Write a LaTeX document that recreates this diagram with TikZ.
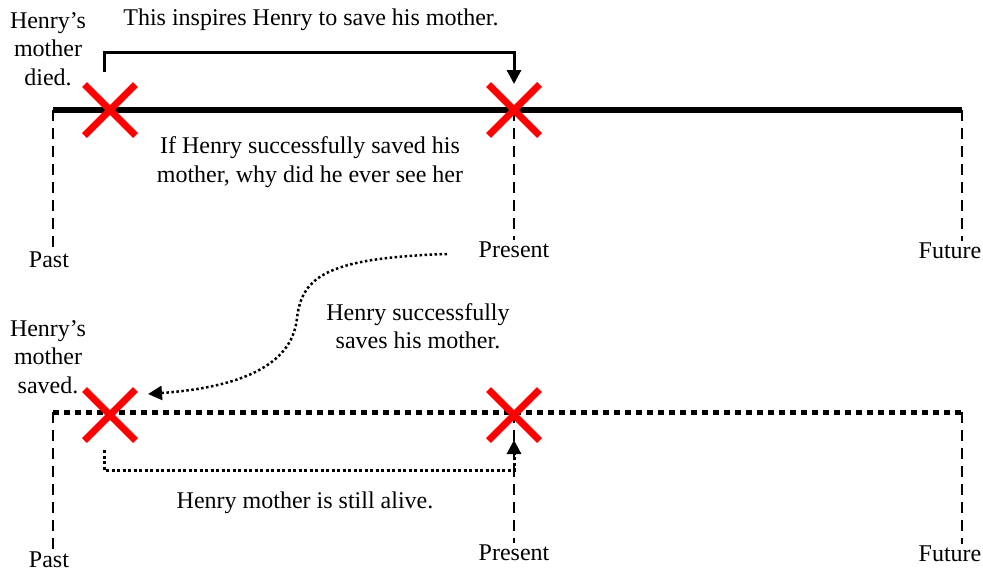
\documentclass[tikz,border=0pt]{standalone}
\usepackage{fontspec}
\setmainfont{Liberation Serif}
\usetikzlibrary{arrows.meta,shapes.misc}

\begin{document}
\begin{tikzpicture}[x=1pt, y=-1pt, font=\fontsize{24}{28.5}\selectfont,
    redx/.style={draw=red, cross out, line width=7pt, minimum size=44pt, inner sep=0pt},
    tick/.style={black, line width=2.5pt, dash pattern=on 11pt off 7pt},
    lbl/.style={align=center, inner sep=2pt},
    tip/.style={-{Triangle[length=14pt, width=14pt]}}]
    \useasboundingbox (0,0) rectangle (983,571);

    \coordinate (P1) at (53,110);
    \coordinate (N1) at (514,110);
    \coordinate (F1) at (962,110);
    \coordinate (P2) at (53,412);
    \coordinate (N2) at (514,412);
    \coordinate (F2) at (962,412);

    \node[lbl] (past1) at (49,260) {Past};
    \node[lbl] (present1) at (514,250) {Present};
    \node[lbl] (future1) at (950,251) {Future};
    \node[lbl] (past2) at (49,560) {Past};
    \node[lbl] (present2) at (514,553) {Present};
    \node[lbl] (future2) at (950,554) {Future};

    \node[lbl] (died) at (48,49) {Henry’s\\mother\\died.};
    \node[lbl] (saved) at (48,357) {Henry’s\\mother\\saved.};
    \node[lbl] (inspire) at (311,20) {This inspires Henry to save his mother.};
    \node[lbl] (question) at (310,162) {If Henry successfully saved his\\mother, why did he ever see her};
    \node[lbl] (saves) at (418,326) {Henry successfully\\saves his mother.};
    \node[lbl] (alive) at (305,503) {Henry mother is still alive.};

    \draw[black, line width=6pt] (P1) -- (F1);
    \draw[black, line width=5pt, dash pattern=on 6pt off 5pt] (P2) -- (F2);

    \draw[tick] (P1) -- (P1 |- past1.north);
    \draw[tick] (N1) -- (present1.north);
    \draw[tick] (F1) -- (F1 |- future1.north);
    \draw[tick] (P2) -- (P2 |- past2.north);
    \draw[tick] (N2) -- (present2.north);
    \draw[tick] (F2) -- (F2 |- future2.north);

    \coordinate (a1) at (104,72);
    \coordinate (a2) at (514,84);
    \draw[tip, line width=3pt] (a1) -- ++(0,-20) -| (a2);

    \coordinate (b1) at (104,450);
    \coordinate (b2) at (514,440);
    \draw[tip, line width=3pt, dash pattern=on 3pt off 2.5pt] (b1) -- ++(0,20) -| (b2);

    \coordinate (c1) at (447,254);
    \coordinate (c2) at (148,394);
    \draw[tip, line width=2.5pt, dash pattern=on 2.5pt off 2.5pt]
        (c1) .. controls (330,258) and (302,275) .. (297,318)
        .. controls (292,370) and (230,388) .. (c2);

    \node[redx] (x1) at (110,110) {};
    \node[redx] (x2) at (514,110) {};
    \node[redx] (x3) at (110,415) {};
    \node[redx] (x4) at (514,415) {};
\end{tikzpicture}
\end{document}
